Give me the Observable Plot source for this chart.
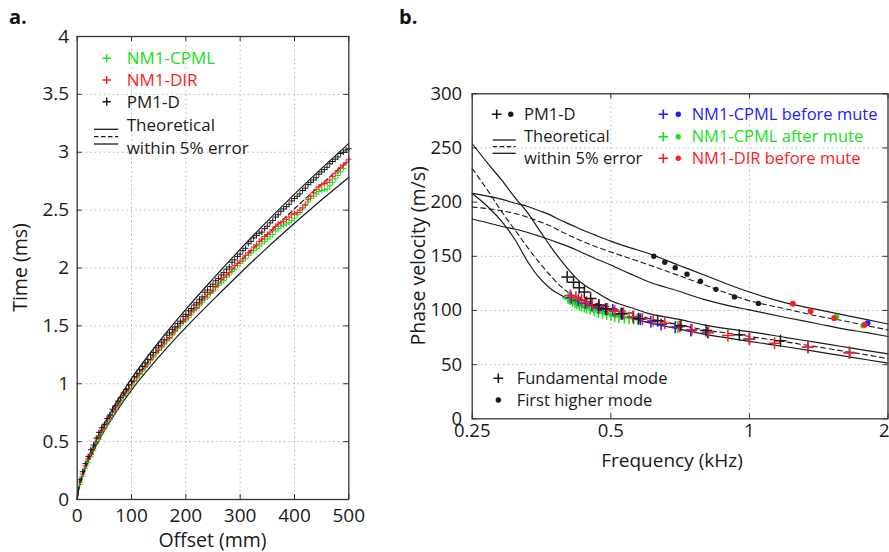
<!DOCTYPE html>
<html><head><meta charset="utf-8">
<script src="https://cdn.jsdelivr.net/npm/d3@7"></script>
<script src="https://cdn.jsdelivr.net/npm/@observablehq/plot@0.6"></script>
<style>
body{margin:0;background:#fff;}
#wrap{position:relative;width:889px;height:552px;overflow:hidden;background:#fff;font-family:"Open Sans",sans-serif;}
.panel{position:absolute;top:0;}
.lab{position:absolute;font-weight:bold;font-size:20px;color:#111;font-family:"Open Sans",sans-serif;}
</style></head><body><div id="wrap">
<div class="lab" style="left:9px;top:3px">a.</div>
<div class="lab" style="left:399px;top:3px">b.</div>
<div id="pa" class="panel" style="left:0;width:370px"></div>
<div id="pb" class="panel" style="left:390px;width:499px"></div>
</div>
<script>
// ---------- Panel a data ----------
const offsetMM = [5,10,15,20,25,30,35,40,45,50,55,60,65,70,75,80,85,90,95,100,105,110,115,120,125,130,135,140,145,150,155,160,165,170,175,180,185,190,195,200,205,210,215,220,225,230,235,240,245,250,255,260,265,270,275,280,285,290,295,300,305,310,315,320,325,330,335,340,345,350,355,360,365,370,375,380,385,390,395,400,405,410,415,420,425,430,435,440,445,450,455,460,465,470,475,480,485,490,495,500];
const timePM1D = [0.17,0.24,0.31,0.37,0.43,0.47,0.53,0.58,0.62,0.65,0.70,0.73,0.78,0.81,0.85,0.88,0.92,0.95,0.99,1.02,1.06,1.09,1.12,1.15,1.18,1.21,1.25,1.27,1.31,1.33,1.36,1.38,1.42,1.44,1.47,1.49,1.52,1.54,1.58,1.60,1.63,1.65,1.68,1.70,1.73,1.75,1.79,1.81,1.84,1.86,1.89,1.91,1.94,1.96,1.99,2.01,2.05,2.07,2.10,2.12,2.15,2.17,2.21,2.23,2.26,2.28,2.30,2.31,2.34,2.36,2.39,2.41,2.44,2.46,2.49,2.51,2.53,2.55,2.58,2.60,2.62,2.64,2.67,2.69,2.72,2.74,2.76,2.78,2.81,2.83,2.85,2.87,2.90,2.92,2.94,2.96,2.99,3.00,3.02,3.03];
const timeDIR = [0.15,0.22,0.29,0.35,0.39,0.44,0.50,0.55,0.59,0.62,0.67,0.71,0.75,0.78,0.82,0.86,0.90,0.93,0.96,0.99,1.03,1.06,1.09,1.12,1.15,1.18,1.21,1.24,1.27,1.29,1.32,1.35,1.38,1.40,1.43,1.46,1.49,1.52,1.54,1.56,1.59,1.62,1.64,1.66,1.69,1.72,1.75,1.77,1.79,1.81,1.84,1.87,1.90,1.92,1.94,1.96,1.99,2.02,2.04,2.06,2.08,2.11,2.13,2.15,2.18,2.20,2.23,2.25,2.27,2.29,2.31,2.33,2.36,2.38,2.39,2.40,2.42,2.44,2.46,2.47,2.48,2.50,2.52,2.55,2.59,2.62,2.65,2.68,2.70,2.72,2.73,2.74,2.76,2.79,2.82,2.84,2.87,2.89,2.91,2.94];
const timeCPML = [0.13,0.20,0.27,0.32,0.37,0.42,0.48,0.52,0.57,0.61,0.65,0.69,0.73,0.77,0.81,0.85,0.89,0.92,0.95,0.98,1.02,1.05,1.08,1.11,1.14,1.17,1.20,1.23,1.26,1.29,1.31,1.34,1.37,1.39,1.42,1.45,1.48,1.50,1.53,1.55,1.57,1.60,1.63,1.65,1.68,1.70,1.73,1.75,1.78,1.80,1.83,1.85,1.87,1.89,1.92,1.94,1.97,1.99,2.02,2.04,2.06,2.08,2.11,2.13,2.15,2.17,2.19,2.21,2.23,2.25,2.27,2.29,2.32,2.34,2.36,2.37,2.38,2.39,2.41,2.43,2.46,2.48,2.51,2.54,2.57,2.60,2.62,2.64,2.66,2.67,2.68,2.68,2.71,2.74,2.77,2.80,2.83,2.86];
const theoOffset = [0,2,5,10,20,30,50,75,100,150,200,250,300,350,400,450,500];
const theoMid = [0,0.07,0.135,0.21,0.34,0.44,0.625,0.82,0.995,1.295,1.565,1.815,2.058,2.29,2.512,2.725,2.93];
const theoUp  = [0,0.074,0.142,0.22,0.357,0.462,0.656,0.861,1.045,1.36,1.643,1.906,2.161,2.405,2.638,2.861,3.077];
const theoLow = [0,0.067,0.128,0.2,0.323,0.418,0.594,0.779,0.945,1.23,1.487,1.724,1.955,2.176,2.386,2.589,2.784];
const aXTicks = [0,100,200,300,400,500];
const aYTicks = [0,0.5,1,1.5,2,2.5,3,3.5,4];
const aLegend = ["NM1-CPML","NM1-DIR","PM1-D"];
const theoLabel = ["Theoretical","within 5% error"];

// ---------- Panel b data ----------
const fTheo = [0.25,0.27,0.29,0.31,0.33,0.35,0.37,0.39,0.41,0.43,0.46,0.5,0.55,0.6,0.7,0.8,0.9,1.0,1.2,1.4,1.6,1.8,2.0];
const fundUp  = [254,236,220,204,190,174,159,146,135,126,118,109,103,97.5,92,86.5,83,80.5,75,70.5,66.5,63,60];
const fundMid = [231,211,191,174,158,144,132,122,115,111,107,103,98,93,87,82,79,76,71,66.5,62.5,59,55.5];
const fundLow = [208,196,182,165,145,130,120,114,109.5,106.5,102,97,93,89,83,78,74.5,71.5,66.5,62,58,54.5,51.5];
const highUp  = [208,205.5,202.5,199,196,192,188,183,179,175,170,164,158,153,142,132.5,124,117,107,101,96,91.5,87.5];
const highMid = [195.5,194,192,189.5,186,182,178,173,168.5,164.5,159.5,154,148,142.5,132.5,123.5,115.5,109,101.5,95,90.5,86,82];
const highLow = [184.5,181,177.5,175,172,168.5,165,161.5,158,154,148.5,142,134,127,118,110,104.5,100.5,93.5,88,83,79.5,76];

const pmFundF = [0.402,0.415,0.427,0.438,0.452,0.471,0.488,0.527,0.575,0.632,0.71,0.805,0.951,1.168];
const pmFundV = [131,126,121,117,111,105,101.5,97,92.5,90.5,86,81.5,77.5,72];
const pmHighF = [0.62,0.655,0.69,0.732,0.783,0.846,0.928,1.046];
const pmHighV = [150,144.5,139.5,133.5,127,119.5,112.5,106.5];
const beforeFundF = [0.41,0.425,0.44,0.455,0.47,0.487,0.505,0.53,0.56,0.58,0.611,0.643,0.69,0.746,0.812,1.0,1.34,1.65];
const beforeFundV = [112,109.5,107,104.5,102.5,101,100.5,97,94,92,89.5,87,84.5,81.5,79.5,74,66,61];
const beforeHighF = [1.806];
const beforeHighV = [88.3];
const afterFundF = [0.404,0.408,0.413,0.418,0.422,0.427,0.432,0.438,0.443,0.451,0.46,0.47,0.48,0.49,0.5,0.51,0.521,0.535,0.548,0.56,0.572,0.698,1.0,1.65];
const afterFundV = [111.5,110.5,109,107.5,106.5,105.5,104.5,103.5,102.5,101.5,100,98.5,97.5,97,96,95,94,93.5,93,92.5,92,84.5,73.5,61.5];
const afterHighF = [1.545,1.767];
const afterHighV = [94.4,86.1];
const dirFundF = [0.408,0.42,0.432,0.443,0.456,0.471,0.492,0.51,0.533,0.558,0.586,0.618,0.655,0.704,0.75,0.815,0.898,1.0,1.134,1.34,1.65];
const dirFundV = [113.8,112.3,110,107.6,105.5,103.7,101.5,99.3,97.5,94.5,92.3,90.7,88.3,85.2,82.2,80,76.9,73.8,69.8,66,61];
const dirHighF = [1.243,1.358,1.527,1.78];
const dirHighV = [106.2,99.3,92.9,86.8];
const bXTicks = [0.25,0.5,1,2];
const bYTicks = [0,50,100,150,200,250,300];
const bLegendRight = ["NM1-CPML before mute","NM1-CPML after mute","NM1-DIR before mute"];
const bModeLabels = ["Fundamental mode","First higher mode"];

// ---------- style ----------
const FONT = '"Open Sans", sans-serif';
const GREEN = "#16e016", RED = "#ff1c1c", BLUE = "#1c1cff", INK = "#1a1a1a", GRID = "#b5b5b5", AX = "#333";
const H = 552;
const rows = (xs, ys) => ys.map((y, i) => ({x: xs[i], y}));

function frameMarks(xt, yt, fw, fh, gx, gy, fs, dxY, dyX, lastXEnd) {
  const xMain = lastXEnd ? xt.slice(0, -1) : xt;
  const m = [
    Plot.ruleX(gx, {stroke: GRID, strokeDasharray: "1.5,3"}),
    Plot.ruleY(gy, {stroke: GRID, strokeDasharray: "1.5,3"}),
    Plot.tickX(xt, {x: d => d, insetTop: fh - 5, stroke: AX}),
    Plot.tickX(xt, {x: d => d, insetBottom: fh - 5, stroke: AX}),
    Plot.tickY(yt, {y: d => d, insetRight: fw - 5, stroke: AX}),
    Plot.tickY(yt, {y: d => d, insetLeft: fw - 5, stroke: AX}),
    Plot.text(xMain, {x: d => d, text: d => String(d), frameAnchor: "bottom", dy: dyX, fontSize: fs, fill: INK}),
    Plot.text(yt, {y: d => d, text: d => String(d), frameAnchor: "left", dx: dxY, textAnchor: "end", fontSize: fs, fill: INK})
  ];
  if (lastXEnd) m.push(Plot.text(xt.slice(-1), {x: d => d, text: d => String(d), frameAnchor: "bottom", dy: dyX, dx: 1.5, textAnchor: "end", fontSize: fs, fill: INK}));
  return m;
}

// ---------- Panel a ----------
const A = {w: 370, l: 76.7, r: 348.3, t: 36, b: 499};
const fwA = A.r - A.l, fhA = A.b - A.t;
const plusA = {symbol: "plus", r: 2, strokeWidth: 1};
const svgA = Plot.plot({
  width: A.w, height: H,
  marginLeft: A.l, marginRight: A.w - A.r, marginTop: A.t, marginBottom: H - A.b,
  x: {domain: [0, 500], axis: null},
  y: {domain: [0, 4], axis: null},
  style: {fontFamily: FONT, background: "transparent", overflow: "visible"},
  marks: [
    ...frameMarks(aXTicks, aYTicks, fwA, fhA, aXTicks.slice(1, -1), aYTicks.slice(1, -1), 19, -8, 22, false),
    Plot.line(rows(theoOffset, theoMid), {x: "x", y: "y", stroke: INK, strokeWidth: 1.1, strokeDasharray: "5,3", curve: "monotone-x"}),
    Plot.line(rows(theoOffset, theoUp), {x: "x", y: "y", stroke: INK, strokeWidth: 1.2, curve: "monotone-x"}),
    Plot.line(rows(theoOffset, theoLow), {x: "x", y: "y", stroke: INK, strokeWidth: 1.2, curve: "monotone-x"}),
    Plot.dot(rows(offsetMM, timeCPML), {x: "x", y: "y", ...plusA, stroke: GREEN}),
    Plot.dot(rows(offsetMM, timeDIR), {x: "x", y: "y", ...plusA, stroke: RED}),
    Plot.dot(rows(offsetMM, timePM1D), {x: "x", y: "y", ...plusA, stroke: INK}),
    Plot.frame({stroke: AX, strokeWidth: 1.3})
  ]
});
document.getElementById("pa").appendChild(svgA);

// ---------- Panel b ----------
const B = {x0: 390, w: 499, l: 471.7, r: 887.5, t: 93.3, b: 418.3};
const fwB = B.r - B.l, fhB = B.b - B.t;
const plusB = {symbol: "plus", r: 3.9, strokeWidth: 1.5};
const svgB = Plot.plot({
  width: B.w, height: H,
  marginLeft: B.l - B.x0, marginRight: B.x0 + B.w - B.r, marginTop: B.t, marginBottom: H - B.b,
  x: {type: "log", domain: [0.25, 2], axis: null},
  y: {domain: [0, 300], axis: null},
  style: {fontFamily: FONT, background: "transparent", overflow: "visible"},
  marks: [
    ...frameMarks(bXTicks, bYTicks, fwB, fhB, [0.5, 1], bYTicks.slice(1, -1), 18.5, -10, 18.5, true),
    Plot.line(rows(fTheo, fundMid), {x: "x", y: "y", stroke: INK, strokeWidth: 1.1, strokeDasharray: "5,3.5", curve: "monotone-x"}),
    Plot.line(rows(fTheo, fundUp), {x: "x", y: "y", stroke: INK, strokeWidth: 1.2, curve: "monotone-x"}),
    Plot.line(rows(fTheo, fundLow), {x: "x", y: "y", stroke: INK, strokeWidth: 1.2, curve: "monotone-x"}),
    Plot.line(rows(fTheo, highMid), {x: "x", y: "y", stroke: INK, strokeWidth: 1.1, strokeDasharray: "5,3.5", curve: "monotone-x"}),
    Plot.line(rows(fTheo, highUp), {x: "x", y: "y", stroke: INK, strokeWidth: 1.2, curve: "monotone-x"}),
    Plot.line(rows(fTheo, highLow), {x: "x", y: "y", stroke: INK, strokeWidth: 1.2, curve: "monotone-x"}),
    Plot.dot(rows(afterFundF, afterFundV), {x: "x", y: "y", ...plusB, stroke: GREEN}),
    Plot.dot(rows(beforeFundF, beforeFundV), {x: "x", y: "y", ...plusB, stroke: BLUE}),
    Plot.dot(rows(dirFundF, dirFundV), {x: "x", y: "y", ...plusB, stroke: RED}),
    Plot.dot(rows(pmFundF, pmFundV), {x: "x", y: "y", ...plusB, stroke: INK}),
    Plot.dot(rows(pmHighF, pmHighV), {x: "x", y: "y", r: 2.7, fill: INK}),
    Plot.dot(rows(afterHighF, afterHighV), {x: "x", y: "y", r: 2.9, fill: GREEN}),
    Plot.dot(rows(beforeHighF, beforeHighV), {x: "x", y: "y", r: 2.9, fill: BLUE}),
    Plot.dot(rows(dirHighF, dirHighV), {x: "x", y: "y", r: 2.9, fill: RED}),
    Plot.frame({stroke: AX, strokeWidth: 1.3})
  ]
});
document.getElementById("pb").appendChild(svgB);

// ---------- Titles & legends ----------
function txt(svg, x, y, s, o = {}) {
  const t = d3.select(svg).append("text").attr("x", x).attr("y", y).attr("dy", "0.35em")
    .attr("font-family", FONT).attr("font-size", o.size || 17).attr("fill", o.fill || INK)
    .attr("text-anchor", o.anchor || "start").text(s);
  if (o.rotate) t.attr("transform", `rotate(${o.rotate},${x},${y})`);
  return t;
}
function plus(svg, x, y, c, size, sw) {
  d3.select(svg).append("path").attr("d", d3.symbol(d3.symbolPlus, size)())
    .attr("transform", `translate(${x},${y})`).attr("fill", "none").attr("stroke", c).attr("stroke-width", sw);
}
function dot(svg, x, y, c, r) {
  d3.select(svg).append("circle").attr("cx", x).attr("cy", y).attr("r", r).attr("fill", c);
}
function hline(svg, x1, x2, y, dash) {
  const l = d3.select(svg).append("line").attr("x1", x1).attr("x2", x2).attr("y1", y).attr("y2", y)
    .attr("stroke", INK).attr("stroke-width", 1.3);
  if (dash) l.attr("stroke-dasharray", "4.5,2.5");
}

// panel a titles
txt(svgA, (A.l + A.r) / 2, 540, "Offset (mm)", {size: 19.5, anchor: "middle"});
txt(svgA, 20, (A.t + A.b) / 2, "Time (ms)", {size: 19.5, anchor: "middle", rotate: -90});
// panel a legend
const aCols = [GREEN, RED, INK];
const aRowsY = [58.3, 80, 101.7];
aLegend.forEach((s, i) => {
  plus(svgA, 106.7, aRowsY[i], aCols[i], 24, 1.4);
  txt(svgA, 126.7, aRowsY[i], s, {size: 17, fill: aCols[i]});
});
hline(svgA, 94, 118.3, 129.3); hline(svgA, 94, 118.3, 136.7, true); hline(svgA, 94, 118.3, 144);
txt(svgA, 126.7, 125, theoLabel[0], {size: 17});
txt(svgA, 126.7, 147.7, theoLabel[1], {size: 17});

// panel b titles
const ox = B.x0;
txt(svgB, 672 - ox, 460, "Frequency (kHz)", {size: 19, anchor: "middle"});
txt(svgB, 418 - ox, (B.t + B.b) / 2, "Phase velocity (m/s)", {size: 19.5, anchor: "middle", rotate: -90});
// panel b legend
plus(svgB, 496.7 - ox, 114.3, INK, 32, 1.6); dot(svgB, 510.7 - ox, 114.3, INK, 2.7);
txt(svgB, 524 - ox, 114.3, "PM1-D", {size: 16.5});
hline(svgB, 492.7 - ox, 515.7 - ox, 140); hline(svgB, 492.7 - ox, 515.7 - ox, 146.7, true); hline(svgB, 492.7 - ox, 515.7 - ox, 153.3);
txt(svgB, 524 - ox, 136.7, theoLabel[0], {size: 16.5});
txt(svgB, 524 - ox, 158.3, theoLabel[1], {size: 16.5});
const bCols = [BLUE, GREEN, RED];
const bRowsY = [114.3, 136.7, 158.3];
bLegendRight.forEach((s, i) => {
  plus(svgB, 663.3 - ox, bRowsY[i], bCols[i], 32, 1.6);
  dot(svgB, 678.3 - ox, bRowsY[i], bCols[i], 2.7);
  txt(svgB, 691.7 - ox, bRowsY[i], s, {size: 16.5, fill: bCols[i]});
});
plus(svgB, 498.3 - ox, 378.3, INK, 32, 1.6);
txt(svgB, 516.7 - ox, 378.3, bModeLabels[0], {size: 16.5});
dot(svgB, 498.3 - ox, 400, INK, 2.7);
txt(svgB, 516.7 - ox, 400, bModeLabels[1], {size: 16.5});
</script>
</body></html>
